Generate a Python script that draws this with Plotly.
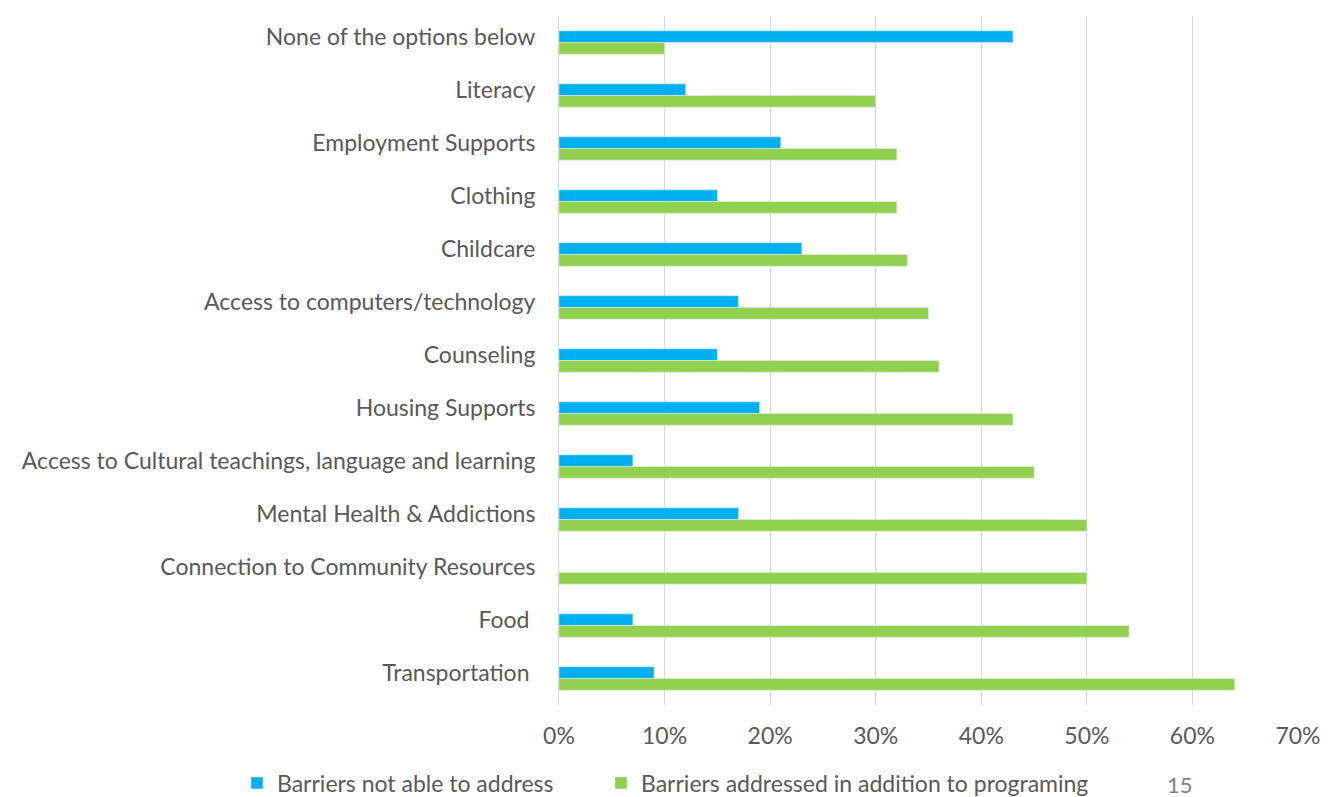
import plotly.graph_objects as go

categories = [
    "None of the options below",
    "Literacy",
    "Employment Supports",
    "Clothing",
    "Childcare",
    "Access to computers/technology",
    "Counseling",
    "Housing Supports",
    "Access to Cultural teachings, language and learning",
    "Mental Health & Addictions",
    "Connection to Community Resources",
    "Food ",
    "Transportation ",
]
not_able = [0.43, 0.12, 0.21, 0.15, 0.23, 0.17, 0.15, 0.19, 0.07, 0.17, 0.0, 0.07, 0.09]
addressed = [0.10, 0.30, 0.32, 0.32, 0.33, 0.35, 0.36, 0.43, 0.45, 0.50, 0.50, 0.54, 0.64]
x_ticks = [0, 0.1, 0.2, 0.3, 0.4, 0.5, 0.6, 0.7]
x_tick_labels = ["0%", "10%", "20%", "30%", "40%", "50%", "60%", "70%"]

FONT = "Lato"
TXT = "#595959"
W, H = 1335, 789

fig = go.Figure()
fig.add_trace(go.Bar(
    y=categories, x=not_able, orientation="h",
    name="Barriers not able to address", marker_color="#00B0F0",
    legend="legend",
))
fig.add_trace(go.Bar(
    y=categories, x=addressed, orientation="h",
    name="Barriers addressed in addition to programing", marker_color="#92D050",
    legend="legend2",
))

legend_common = dict(
    orientation="h", yanchor="middle", xanchor="left",
    xref="container", yref="container",
    font=dict(family=FONT, size=23, color=TXT),
    itemwidth=30, bgcolor="rgba(0,0,0,0)",
)

fig.update_layout(
    width=W, height=H,
    paper_bgcolor="white", plot_bgcolor="white",
    barmode="group", bargap=0.56, bargroupgap=0,
    margin=dict(l=551, r=45, t=8, b=92, autoexpand=False),
    font=dict(family=FONT, size=23, color=TXT),
    legend=dict(x=229 / W, y=14 / H, **legend_common),
    legend2=dict(x=593 / W, y=14 / H, **legend_common),
    showlegend=True,
)
fig.update_xaxes(
    range=[0, 0.7], tickvals=x_ticks, ticktext=x_tick_labels,
    showgrid=True, gridcolor="#D9D9D9", gridwidth=1,
    zeroline=False, showline=False, ticks="",
    tickfont=dict(family=FONT, size=23, color=TXT),
    ticklabelstandoff=15,
)
fig.update_yaxes(
    autorange="reversed", showgrid=False, ticks="",
    showline=True, linecolor="#D9D9D9", linewidth=1,
    tickfont=dict(family=FONT, size=23, color=TXT),
    ticklabelstandoff=18, ticklabelshift=6,
)
fig.add_annotation(
    text="15", x=(1180 - 559) / (1298 - 559), y=(697 - 777) / 689,
    xref="paper", yref="paper", xanchor="center", yanchor="middle",
    showarrow=False, font=dict(family=FONT, size=22, color="#7F7F7F"),
)

fig.write_html("out.html")
